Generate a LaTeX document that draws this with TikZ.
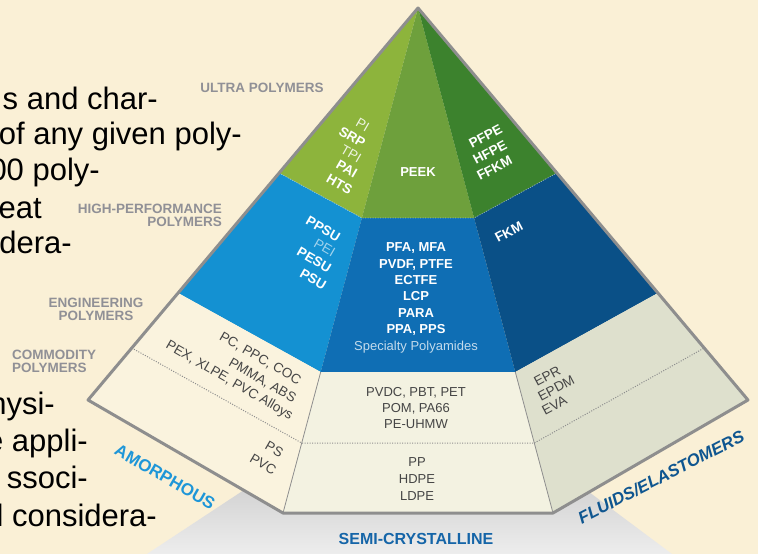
\documentclass[tikz,border=0pt]{standalone}
\usepackage{fontspec}
\setmainfont{Liberation Sans}
\definecolor{bg}{HTML}{FAF0D6}
\definecolor{gL}{HTML}{8DB43C}
\definecolor{gM}{HTML}{6EA03C}
\definecolor{gR}{HTML}{3C822D}
\definecolor{bL}{HTML}{1491D2}
\definecolor{bM}{HTML}{0F6EB4}
\definecolor{bR}{HTML}{0A5087}
\definecolor{cL}{HTML}{FAF3DE}
\definecolor{cM}{HTML}{F3F2E1}
\definecolor{cR}{HTML}{DEE0CD}
\definecolor{edge}{HTML}{8E8E8E}
\definecolor{lvlgray}{HTML}{909096}
\definecolor{amor}{HTML}{1E96D8}
\definecolor{semi}{HTML}{1565A8}
\definecolor{flu}{HTML}{0F5690}
\definecolor{dk}{HTML}{454545}
\begin{document}
\begin{tikzpicture}[x=1pt,y=-1pt,
  bodytext/.style={inner sep=0pt,anchor=base east,font=\fontsize{31}{37}\selectfont,text=black},
  lvl/.style={inner sep=0pt,font=\fontsize{13.5}{13}\selectfont\bfseries,text=lvlgray},
  wb/.style={inner sep=0pt,font=\fontsize{13.5}{16}\selectfont\bfseries,text=white},
  wl/.style={inner sep=0pt,font=\fontsize{13.5}{16}\selectfont,text=#1},
  mb/.style={inner sep=0pt,anchor=base,font=\fontsize{13}{16}\selectfont\bfseries,text=white},
  mg/.style={inner sep=0pt,anchor=base,font=\fontsize{13}{16}\selectfont,text=dk},
  lg/.style={inner sep=0pt,font=\fontsize{13.5}{16}\selectfont,text=dk},
  lface/.style={rotate=-30,anchor=base east},
  rface/.style={rotate=28,anchor=base west},
  dotline/.style={draw=edge,line width=1pt,dash pattern=on 1pt off 1.5pt}
]
\useasboundingbox (0,0) rectangle (758,554);
\clip (0,0) rectangle (758,554);
\fill[bg] (0,0) rectangle (758,554);

% left body text fragments
\node[bodytext] (t1) at (158,109) {s and char-};
\node[bodytext] (t2) at (242,144) {of any given poly-};
\node[bodytext] (t3) at (100,180) {00 poly-};
\node[bodytext] (t4) at (42,218) {eat};
\node[bodytext] (t5) at (72,253) {dera-};
\node[bodytext] (t6) at (55,414) {hysi-};
\node[bodytext] (t7) at (88,451) {e appli-};
\node[bodytext] (t8) at (88,488) {ssoci-};
\node[bodytext] (t9) at (157,526) {l considera-};

% geometry
\coordinate (A) at (418,8);
\coordinate (L) at (88,400);
\coordinate (R) at (748,400);
\coordinate (BL) at (283,513);
\coordinate (BR) at (553,513);
\coordinate (o1l) at (279.1,173);
\coordinate (i1l) at (361.9,218);
\coordinate (i1r) at (474.1,218);
\coordinate (o1r) at (556.9,173);
\coordinate (o2l) at (178.1,293);
\coordinate (i2l) at (320.7,372);
\coordinate (i2r) at (515.3,372);
\coordinate (o2r) at (657.9,293);
\coordinate (o3l) at (131.8,348);
\coordinate (i3l) at (301.7,443);
\coordinate (i3r) at (534.3,443);
\coordinate (o3r) at (704.2,348);

% shadow
\shade[top color=black!17,bottom color=black!7] (147,554) -- (244,490) -- (BL) -- (BR) -- (589,492) -- (672,554) -- cycle;

% faces
\fill[gL] (A) -- (o1l) -- (i1l) -- cycle;
\fill[gM] (A) -- (i1l) -- (i1r) -- cycle;
\fill[gR] (A) -- (i1r) -- (o1r) -- cycle;
\fill[bL] (o1l) -- (o2l) -- (i2l) -- (i1l) -- cycle;
\fill[bM] (i1l) -- (i2l) -- (i2r) -- (i1r) -- cycle;
\fill[bR] (i1r) -- (i2r) -- (o2r) -- (o1r) -- cycle;
\fill[cL] (o2l) -- (L) -- (BL) -- (i2l) -- cycle;
\fill[cM] (i2l) -- (BL) -- (BR) -- (i2r) -- cycle;
\fill[cR] (i2r) -- (BR) -- (R) -- (o2r) -- cycle;

% lines
\draw[white,opacity=0.45,line width=0.8pt,dash pattern=on 1pt off 1.5pt] (o1l) -- (i1l) -- (i1r) -- (o1r);
\draw[edge,line width=0.8pt] (i2l) -- (BL);
\draw[edge,line width=0.8pt] (i2r) -- (BR);
\draw[dotline] (o3l) -- (i3l) -- (i3r) -- (o3r);
\draw[edge,line width=3pt,line join=round] (A) -- (L) -- (BL) -- (BR) -- (R) -- cycle;

% level labels
\node[lvl] (lu) at (262,88) {ULTRA POLYMERS};
\node[lvl,align=right,anchor=east] (lh) at (222,215.5) {HIGH-PERFORMANCE\\POLYMERS};
\node[lvl,align=center] (le) at (96,309.5) {ENGINEERING\\POLYMERS};
\node[lvl,align=left,anchor=west] (lc) at (12,361.5) {COMMODITY\\POLYMERS};

% left face, ultra
\node[wl=white!85!gL,lface] (pi) at (366,132) {PI};
\node[wb,lface] (srp) at (362,148) {SRP};
\node[wl=white!85!gL,lface] (tpi) at (358,163) {TPI};
\node[wb,lface] (pai) at (354,178) {PAI};
\node[wb,lface] (hts) at (349,195) {HTS};
% middle ultra
\node[mb] (peek) at (418,176) {PEEK};
% right ultra
\node[wb,rface] (pfpe) at (472,149) {PFPE};
\node[wb,rface] (hfpe) at (476,165) {HFPE};
\node[wb,rface] (ffkm) at (480,181) {FFKM};

% left face, high performance
\node[wb,lface] (ppsu) at (337,242) {PPSU};
\node[wl=white!60!bL,lface] (pei) at (332,257) {PEI};
\node[wb,lface] (pesu) at (328,273) {PESU};
\node[wb,lface] (psu) at (323,290) {PSU};
% middle high performance
\node[mb] (m1) at (416,251.5) {PFA, MFA};
\node[mb] (m2) at (416,268) {PVDF, PTFE};
\node[mb] (m3) at (416,284.3) {ECTFE};
\node[mb] (m4) at (416,300.7) {LCP};
\node[mb] (m5) at (416,317) {PARA};
\node[mb] (m6) at (416,333.5) {PPA, PPS};
\node[mb,font=\fontsize{13}{16}\selectfont,text=white!75!bM] (m7) at (416,350) {Specialty Polyamides};
% right high performance
\node[wb,rface] (fkm) at (498,243) {FKM};

% left lower
\node[lg,lface] (e1) at (298,385) {PC, PPC, COC};
\node[lg,lface] (e2) at (293,403) {PMMA, ABS};
\node[lg,lface] (e3) at (290,420) {PEX, XLPE, PVC Alloys};
\node[lg,lface] (c1) at (280,458) {PS};
\node[lg,lface] (c2) at (273,475) {PVC};
% middle lower
\node[mg] (n1) at (416,396) {PVDC, PBT, PET};
\node[mg] (n2) at (416,412.5) {POM, PA66};
\node[mg] (n3) at (416,428.5) {PE-UHMW};
\node[mg] (n4) at (417,466.5) {PP};
\node[mg] (n5) at (417,483.5) {HDPE};
\node[mg] (n6) at (417,500.5) {LDPE};
% right lower
\node[lg,rface] (r1) at (537,387) {EPR};
\node[lg,rface] (r2) at (541,401.5) {EPDM};
\node[lg,rface] (r3) at (545,416) {EVA};

% face labels
\node[inner sep=0pt,rotate=-30,font=\fontsize{17}{17}\selectfont\bfseries,text=amor] (amorph) at (165,477) {AMORPHOUS};
\node[inner sep=0pt,font=\fontsize{16}{16}\selectfont\bfseries,text=semi] (semic) at (416,539) {SEMI-CRYSTALLINE};
\node[inner sep=0pt,rotate=27,font=\fontsize{17}{17}\selectfont\bfseries\itshape,text=flu] (fluids) at (661,477) {FLUIDS/ELASTOMERS};
\end{tikzpicture}
\end{document}
